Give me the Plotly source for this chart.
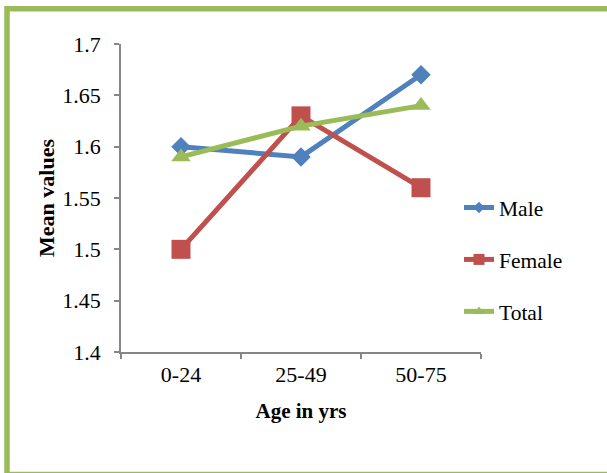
import plotly.graph_objects as go

categories = ["0-24", "25-49", "50-75"]
male = [1.60, 1.59, 1.67]
female = [1.50, 1.63, 1.56]
total = [1.59, 1.62, 1.64]
y_ticks = [1.4, 1.45, 1.5, 1.55, 1.6, 1.65, 1.7]
y_tick_labels = ["1.4", "1.45", "1.5", "1.55", "1.6", "1.65", "1.7"]
series_names = ["Male", "Female", "Total"]
series_colors = ["#4F81BD", "#C0504D", "#9BBB59"]
series_symbols = ["diamond", "square", "triangle-up"]
series_sizes = [15, 19, 17]
legend_sizes = [9, 11, 10]

FONT = "Liberation Serif, Times New Roman, serif"
W, H = 607, 473
L, R, T, B = 121, 126, 44, 121
pw, ph = W - L - R, H - T - B

def px_x(x):
    return (x - L) / pw

def px_y(y):
    return (H - B - y) / ph

fig = go.Figure()
for name, vals, col, sym, sz in zip(series_names, [male, female, total],
                                    series_colors, series_symbols, series_sizes):
    fig.add_trace(go.Scatter(x=categories, y=vals, name=name, mode="lines+markers",
                             line=dict(color=col, width=5),
                             marker=dict(symbol=sym, size=sz, color=col),
                             showlegend=False))
for i, (name, col, sym, sz) in enumerate(zip(series_names, series_colors,
                                             series_symbols, legend_sizes)):
    fig.add_trace(go.Scatter(x=[None], y=[None], name=name, mode="lines+markers",
                             line=dict(color=col, width=5),
                             marker=dict(symbol=sym, size=sz, color=col),
                             legendgroup="g%d" % i, showlegend=True))

fig.update_layout(
    width=W, height=H,
    margin=dict(l=L, r=R, t=T, b=B, autoexpand=False),
    paper_bgcolor="white", plot_bgcolor="white",
    font=dict(family=FONT, size=21, color="black"),
    showlegend=True,
    legend=dict(x=px_x(459), y=px_y(187), xanchor="left", yanchor="top",
                bgcolor="rgba(0,0,0,0)", font=dict(size=21.5),
                traceorder="grouped", tracegroupgap=21, itemwidth=30),
    xaxis=dict(type="category", range=[-0.5, 2.5], showgrid=False,
               showline=True, linecolor="#868686", linewidth=1.5,
               ticks="outside", ticklen=5, tickcolor="#868686", tickwidth=1.5,
               tickson="boundaries", tickfont=dict(size=22), ticklabelstandoff=2,
               title=dict(text="<b>Age in yrs</b>", font=dict(size=21), standoff=17),
               zeroline=False, fixedrange=True),
    yaxis=dict(range=[1.4, 1.7], tickvals=y_ticks, ticktext=y_tick_labels,
               showgrid=False, showline=True, linecolor="#868686", linewidth=1.5,
               ticks="outside", ticklen=5, tickcolor="#868686", tickwidth=1.5,
               tickfont=dict(size=22), ticklabelstandoff=9,
               title=dict(text="<b>Mean values</b>", font=dict(size=22), standoff=2),
               zeroline=False, fixedrange=True),
    shapes=[dict(type="rect", xref="paper", yref="paper",
                 x0=px_x(7), x1=px_x(640), y0=px_y(474.5), y1=px_y(8.7),
                 line=dict(color="#9BBB59", width=5.5), fillcolor="rgba(0,0,0,0)",
                 layer="below")],
)

fig.write_html("out.html", config={"displayModeBar": False},
               post_script="document.body.style.margin='0';")
